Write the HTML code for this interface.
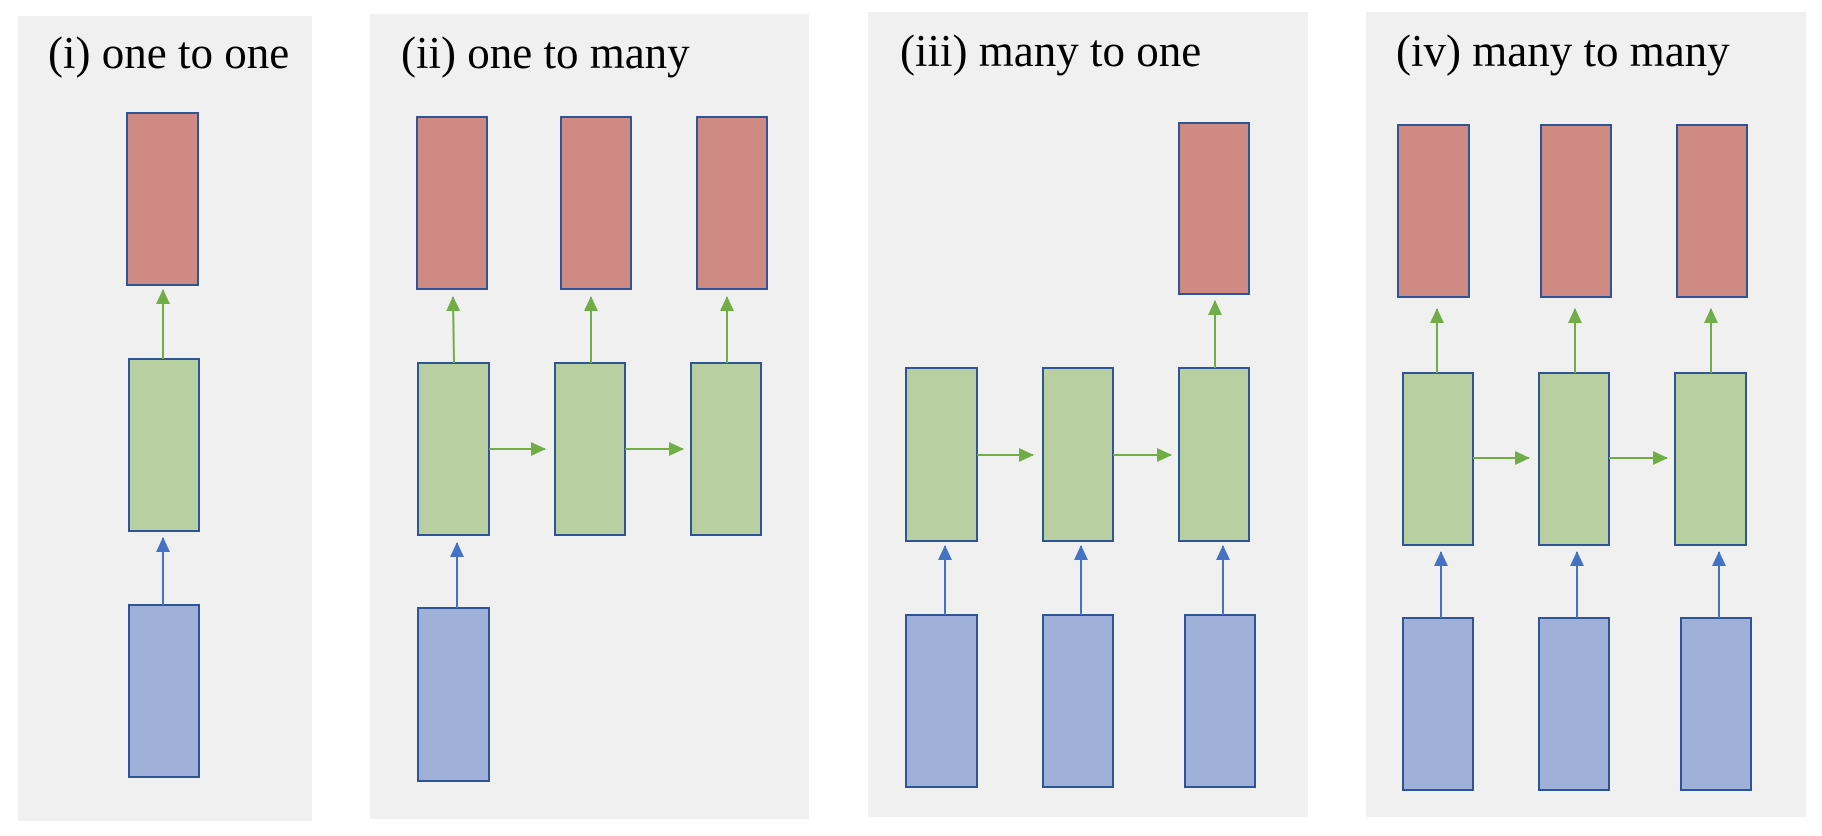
<!DOCTYPE html>
<html><head><meta charset="utf-8"><style>
html,body{margin:0;padding:0;background:#fff;}
svg{display:block;}
text{font-family:"Liberation Serif",serif;font-size:45px;fill:#000;}
.r{fill:#d08a84;stroke:#2f5597;stroke-width:2;}
.g{fill:#b7cfa1;stroke:#2f5597;stroke-width:2;}
.b{fill:#9fb1d8;stroke:#2f5597;stroke-width:2;}
.ga{stroke:#70ad47;stroke-width:2;fill:none;}
.ba{stroke:#4472c4;stroke-width:2;fill:none;}
.p{fill:#f0f0f0;}
</style></head><body>
<svg width="1822" height="836" viewBox="0 0 1822 836">
<defs>
<marker id="mg" markerWidth="16" markerHeight="16" refX="14" refY="7" orient="auto" markerUnits="userSpaceOnUse"><path d="M0,0 L15,7 L0,14 z" fill="#70ad47"/></marker>
<marker id="mb" markerWidth="16" markerHeight="16" refX="14" refY="7" orient="auto" markerUnits="userSpaceOnUse"><path d="M0,0 L15,7 L0,14 z" fill="#4472c4"/></marker>
</defs>
<g>
<rect class="p" x="18" y="16" width="294" height="805"/>
<text x="48" y="68">(i) one to one</text>
<rect class="r" x="127" y="113" width="71" height="172"/>
<rect class="g" x="129" y="359" width="70" height="172"/>
<rect class="b" x="129" y="605" width="70" height="172"/>
<line class="ga" x1="163" y1="359" x2="163" y2="290" marker-end="url(#mg)"/>
<line class="ba" x1="163" y1="605" x2="163" y2="538" marker-end="url(#mb)"/>
</g>
<g>
<rect class="p" x="370" y="14" width="439" height="805"/>
<text x="401" y="68">(ii) one to many</text>
<rect class="r" x="417" y="117" width="70" height="172"/>
<rect class="r" x="561" y="117" width="70" height="172"/>
<rect class="r" x="697" y="117" width="70" height="172"/>
<rect class="g" x="418" y="363" width="71" height="172"/>
<rect class="g" x="555" y="363" width="70" height="172"/>
<rect class="g" x="691" y="363" width="70" height="172"/>
<rect class="b" x="418" y="608" width="71" height="173"/>
<line class="ga" x1="454" y1="363" x2="453" y2="297" marker-end="url(#mg)"/>
<line class="ga" x1="591" y1="363" x2="591" y2="297" marker-end="url(#mg)"/>
<line class="ga" x1="727" y1="363" x2="727" y2="297" marker-end="url(#mg)"/>
<line class="ga" x1="489" y1="449" x2="545" y2="449" marker-end="url(#mg)"/>
<line class="ga" x1="625" y1="449" x2="683" y2="449" marker-end="url(#mg)"/>
<line class="ba" x1="457" y1="608" x2="457" y2="543" marker-end="url(#mb)"/>
</g>
<g>
<rect class="p" x="868" y="12" width="440" height="805"/>
<text x="900" y="66">(iii) many to one</text>
<rect class="r" x="1179" y="123" width="70" height="171"/>
<rect class="g" x="906" y="368" width="71" height="173"/>
<rect class="g" x="1043" y="368" width="70" height="173"/>
<rect class="g" x="1179" y="368" width="70" height="173"/>
<rect class="b" x="906" y="615" width="71" height="172"/>
<rect class="b" x="1043" y="615" width="70" height="172"/>
<rect class="b" x="1185" y="615" width="70" height="172"/>
<line class="ga" x1="1215" y1="368" x2="1215" y2="301" marker-end="url(#mg)"/>
<line class="ga" x1="977" y1="455" x2="1033" y2="455" marker-end="url(#mg)"/>
<line class="ga" x1="1113" y1="455" x2="1171" y2="455" marker-end="url(#mg)"/>
<line class="ba" x1="945" y1="615" x2="945" y2="546" marker-end="url(#mb)"/>
<line class="ba" x1="1081" y1="615" x2="1081" y2="546" marker-end="url(#mb)"/>
<line class="ba" x1="1223" y1="615" x2="1223" y2="546" marker-end="url(#mb)"/>
</g>
<g>
<rect class="p" x="1366" y="12" width="440" height="805"/>
<text x="1396" y="66">(iv) many to many</text>
<rect class="r" x="1398" y="125" width="71" height="172"/>
<rect class="r" x="1541" y="125" width="70" height="172"/>
<rect class="r" x="1677" y="125" width="70" height="172"/>
<rect class="g" x="1403" y="373" width="70" height="172"/>
<rect class="g" x="1539" y="373" width="70" height="172"/>
<rect class="g" x="1675" y="373" width="71" height="172"/>
<rect class="b" x="1403" y="618" width="70" height="172"/>
<rect class="b" x="1539" y="618" width="70" height="172"/>
<rect class="b" x="1681" y="618" width="70" height="172"/>
<line class="ga" x1="1437" y1="373" x2="1437" y2="309" marker-end="url(#mg)"/>
<line class="ga" x1="1575" y1="373" x2="1575" y2="309" marker-end="url(#mg)"/>
<line class="ga" x1="1711" y1="373" x2="1711" y2="309" marker-end="url(#mg)"/>
<line class="ga" x1="1473" y1="458" x2="1529" y2="458" marker-end="url(#mg)"/>
<line class="ga" x1="1609" y1="458" x2="1667" y2="458" marker-end="url(#mg)"/>
<line class="ba" x1="1441" y1="618" x2="1441" y2="552" marker-end="url(#mb)"/>
<line class="ba" x1="1577" y1="618" x2="1577" y2="552" marker-end="url(#mb)"/>
<line class="ba" x1="1719" y1="618" x2="1719" y2="552" marker-end="url(#mb)"/>
</g>
</svg>
</body></html>
